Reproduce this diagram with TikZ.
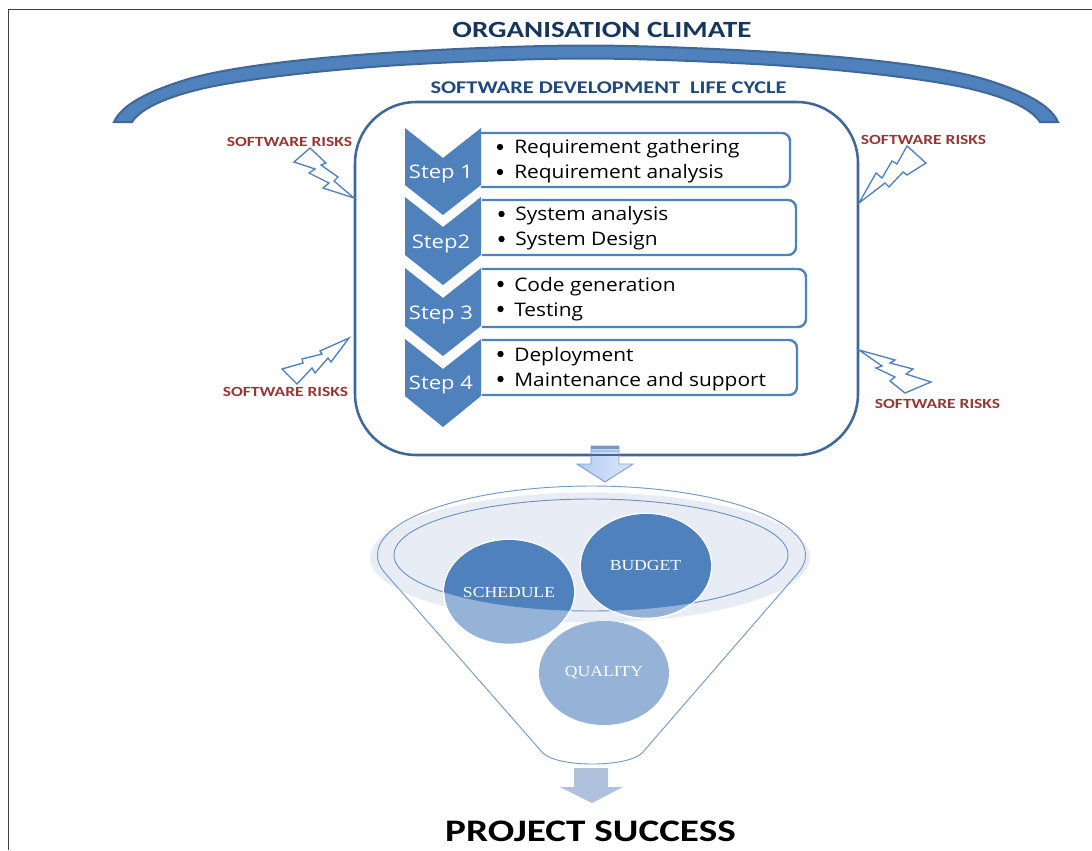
\documentclass[tikz,border=0pt]{standalone}
\usepackage{fontspec}
\setmainfont[FakeStretch=1.25]{Carlito}
\newfontfamily\stepfont[FakeStretch=1.18]{Open Sans}
\newfontfamily\itemfont[FakeStretch=1.12]{Open Sans}
\newfontfamily\serf[FakeStretch=1.15]{Liberation Serif}
\definecolor{blueA}{HTML}{4F81BD}
\definecolor{blueB}{HTML}{95B3D7}
\definecolor{lineB}{HTML}{3F6797}
\definecolor{riskC}{HTML}{953735}
\definecolor{rimC}{HTML}{E8ECF5}
\definecolor{arrB}{HTML}{B0C1DE}
\definecolor{orgC}{HTML}{17365D}
\definecolor{sdlcC}{HTML}{1F497D}
\definecolor{arrL}{HTML}{B4CCF2}
\definecolor{arrR}{HTML}{DCE8FB}
\tikzset{
  x=0.75pt,y=-0.75pt,
  chev/.style={fill=blueA,draw=none},
  stepbox/.style={draw=blueA,line width=1.8pt,fill=white},
  bolt/.style={draw=blueA,line width=1pt,fill=white,line join=miter},
  risk/.style={text=riskC,font=\bfseries\fontsize{10.5}{12}\selectfont,inner sep=0pt},
  steplabel/.style={text=white,font=\stepfont\fontsize{14}{16}\selectfont,inner sep=0pt},
  item/.style={text=black,font=\itemfont\fontsize{14}{16}\selectfont,anchor=west,inner sep=0pt},
  dot/.style={circle,fill=black,inner sep=0pt,minimum size=4.8pt},
  ball/.style={text=white,font=\serf\fontsize{11.5}{13}\selectfont,inner sep=0pt},
}
\begin{document}
\begin{tikzpicture}
\useasboundingbox (0,0) rectangle (1092,850);
\fill[white] (0,0) rectangle (1092,850);
% frame
\draw[draw=black!75,line width=0.8pt] (8.5,850) -- (8.5,9.5) -- (1092,9.5);
% arc
\draw[fill=blueA,draw=lineB,line width=1.5pt,line join=miter]
  (114,122) .. controls (122,104) and (150,91) .. (185,80)
  .. controls (230,66) and (320,57) .. (400,52)
  .. controls (450,49) and (530,45.5) .. (586,45.5)
  .. controls (642,45.5) and (722,49) .. (772,52)
  .. controls (852,57) and (942,66) .. (987,80)
  .. controls (1022,91) and (1050,104) .. (1058,122)
  -- (1040,122)
  .. controls (1030,107) and (1002,96) .. (967,88)
  .. controls (922,78) and (842,69.5) .. (772,65)
  .. controls (722,62) and (642,58.5) .. (586,58.5)
  .. controls (530,58.5) and (450,62) .. (400,65)
  .. controls (330,69.5) and (250,78) .. (205,88)
  .. controls (170,96) and (142,107) .. (132,122)
  -- cycle;
\node[inner sep=0pt,font=\bfseries\fontsize{17.4}{20}\selectfont,text=orgC] (org) at (602,30) {ORGANISATION CLIMATE};
\node[inner sep=0pt,font=\bfseries\fontsize{13.4}{15}\selectfont,text=sdlcC] (sdlc) at (608.5,88) {SOFTWARE DEVELOPMENT\ \ LIFE CYCLE};
% main box
\draw[draw=lineB,line width=1.9pt,fill=white,rounded corners=46pt] (355,102) rectangle (858,455);
% step boxes
\draw[stepbox,rounded corners=6pt] (481,133) -- (790,133) -- (790,187) -- (481,187);
\draw[stepbox,rounded corners=6pt] (482,200) -- (796,200) -- (796,255) -- (482,255);
\draw[stepbox,rounded corners=6pt] (482,269) -- (806,269) -- (806,327) -- (482,327);
\draw[stepbox,rounded corners=6pt] (482,340) -- (797,340) -- (797,395) -- (482,395);
% chevrons
\fill[chev] (405,128) -- (443,158) -- (481,128) -- (481,185) -- (443,215) -- (405,185) -- cycle;
\fill[chev] (405,197) -- (443,227) -- (481,197) -- (481,255) -- (443,285) -- (405,255) -- cycle;
\fill[chev] (405,268) -- (443,298) -- (481,268) -- (481,326) -- (443,356) -- (405,326) -- cycle;
\fill[chev] (405,339) -- (443,369) -- (481,339) -- (481,396) -- (443,427) -- (405,396) -- cycle;
\node[steplabel] (s1) at (441,174) {Step 1};
\node[steplabel] (s2) at (441,244) {Step2};
\node[steplabel] (s3) at (441,315) {Step 3};
\node[steplabel] (s4) at (441,385) {Step 4};
% items
\node[dot] (d1) at (500,147) {}; \node[item] (t1) at (514,149) {Requirement gathering};
\node[dot] (d2) at (500,172) {}; \node[item] (t2) at (514,174) {Requirement analysis};
\node[dot] (d3) at (501.5,214) {}; \node[item] (t3) at (515,216) {System analysis};
\node[dot] (d4) at (501.5,239) {}; \node[item] (t4) at (515,241) {System Design};
\node[dot] (d5) at (500.5,284) {}; \node[item] (t5) at (514,287) {Code generation};
\node[dot] (d6) at (500.5,309) {}; \node[item] (t6) at (514,312) {Testing};
\node[dot] (d7) at (500.5,354) {}; \node[item] (t7) at (514,357) {Deployment};
\node[dot] (d8) at (500.5,379) {}; \node[item] (t8) at (514,382) {Maintenance and support};
% bolts
\draw[bolt] (354,198) -- (334,181) -- (338,177) -- (321,165) -- (326,163) -- (310,148) -- (294,162) -- (315,169) -- (309,173) -- (329,183) -- (323,188) -- cycle;
\draw[bolt] (859,203) -- (876,173) -- (882,178) -- (892,161) -- (897,164) -- (907,146) -- (926,163) -- (907,175) -- (903,172) -- (889,187) -- (885,183) -- cycle;
\draw[bolt] (349,338) -- (320,351) -- (322,354) -- (302,359) -- (303,363) -- (282,369) -- (297,384) -- (312,368) -- (315,373) -- (328,358) -- (331,362) -- cycle;
\draw[bolt] (859,350) -- (895,360) -- (890,363) -- (913,369) -- (906,374) -- (931,382) -- (905,393) -- (890,381) -- (895,377) -- (876,368) -- (882,366) -- cycle;
\node[risk] (r1) at (289.5,141.5) {SOFTWARE RISKS};
\node[risk] (r2) at (923.5,140) {SOFTWARE RISKS};
\node[risk] (r3) at (285.5,391.5) {SOFTWARE RISKS};
\node[risk] (r4) at (937.5,403.5) {SOFTWARE RISKS};
% top arrow
\shade[left color=arrL,right color=arrR,draw=blueA!75!white,line width=0.7pt]
 (591,446) -- (619,446) -- (619,464) -- (633,464) -- (605,482) -- (577,464) -- (591,464) -- cycle;
\fill[blueA!80!white] (591,446) rectangle (619,449);
\fill[blueA!50!white] (591,450) rectangle (619,452);
\draw[lineB,line width=1.9pt] (591,455) -- (619,455);
% funnel
\fill[rimC] (590,557.5) ellipse [x radius=220,y radius=65];
\draw[blueA!80,line width=0.7pt]
  (377.5,555) arc [start angle=180,end angle=360,x radius=214,y radius=69]
  .. controls (805.5,562) and (803,567) .. (798,573)
  -- (643,752) .. controls (630,768) and (555,768) .. (542,752)
  -- (385,573) .. controls (380,567) and (377.5,562) .. cycle;
\draw[blueA!85,line width=0.7pt] (591,555) ellipse [x radius=197,y radius=56];
% balls
\begin{scope}
\fill[blueB] (604,673) ellipse [x radius=65,y radius=52];
\fill[blueB] (509,592) ellipse [x radius=65,y radius=52];
\fill[blueB] (646,566) ellipse [x radius=65,y radius=52];
\draw[white,line width=1.2pt] (509,592) ellipse [x radius=65.5,y radius=52.5];
\draw[white,line width=1.2pt] (646,566) ellipse [x radius=65.5,y radius=52.5];
\clip (591,555) ellipse [x radius=197,y radius=56];
\fill[blueA] (509,592) ellipse [x radius=65,y radius=52];
\fill[blueA] (646,566) ellipse [x radius=65,y radius=52];
\end{scope}
\node[ball] (sch) at (509,592) {SCHEDULE};
\node[ball] (bud) at (645.5,565) {BUDGET};
\node[ball] (qua) at (604,673) {QUALITY};
% bottom arrow
\fill[arrB] (574,768) -- (608,768) -- (608,787) -- (623,787) -- (592,803) -- (560,787) -- (574,787) -- cycle;
\node[inner sep=0pt,anchor=base,font=\bfseries\fontsize{23.5}{26}\selectfont,text=black] (ps) at (590.5,841) {PROJECT SUCCESS};
\end{tikzpicture}
\end{document}
